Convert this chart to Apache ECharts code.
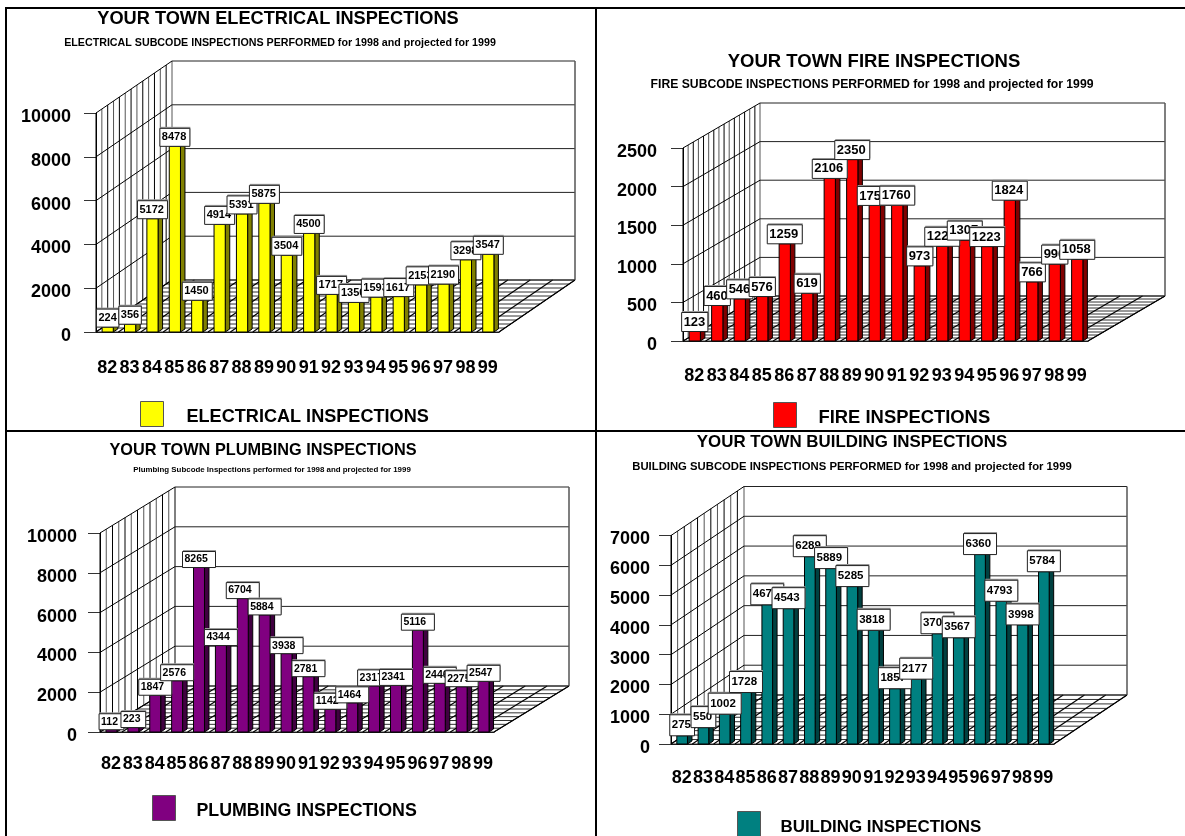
<!DOCTYPE html>
<html>
<head>
<meta charset="utf-8">
<style>
  html, body { margin: 0; padding: 0; background: #fff; }
  #chart { width: 1185px; height: 836px; }
</style>
<script src="https://cdn.jsdelivr.net/npm/echarts@6/dist/echarts.min.js"></script>
</head>
<body>
<div id="chart"></div>
<script>
// inspection counts
const categories = ['82', '83', '84', '85', '86', '87', '88', '89', '90', '91', '92', '93', '94', '95', '96', '97', '98', '99'];
const electricalValues = [224, 356, 5172, 8478, 1450, 4914, 5391, 5875, 3504, 4500, 1717, 1350, 1593, 1617, 2153, 2190, 3298, 3547];
const fireValues = [123, 460, 546, 576, 1259, 619, 2106, 2350, 1756, 1760, 973, 1227, 1307, 1223, 1824, 766, 996, 1058];
const plumbingValues = [112, 223, 1847, 2576, 8265, 4344, 6704, 5884, 3938, 2781, 1142, 1464, 2317, 2341, 5116, 2446, 2275, 2547];
const buildingValues = [275, 550, 1002, 1728, 4674, 4543, 6289, 5889, 5285, 3818, 1857, 2177, 3702, 3567, 6360, 4793, 3998, 5784];

const electricalTicks = [0, 2000, 4000, 6000, 8000, 10000];
const fireTicks = [0, 500, 1000, 1500, 2000, 2500];
const plumbingTicks = [0, 2000, 4000, 6000, 8000, 10000];
const buildingTicks = [0, 1000, 2000, 3000, 4000, 5000, 6000, 7000];

const FONT = '"Liberation Sans", Arial, sans-serif';

const panels = [
  {
    name: 'ELECTRICAL INSPECTIONS', values: electricalValues, ticks: electricalTicks,
    title: 'YOUR TOWN ELECTRICAL INSPECTIONS', titleX: 278, titleY: 19, titleSize: 18.2,
    sub: 'ELECTRICAL SUBCODE INSPECTIONS PERFORMED for 1998 and projected for 1999', subX: 280, subY: 43, subSize: 10.7,
    left: 96, right: 499, top: 113, bottom: 332, dx: 76, dy: -52, steps: 13, xMargin: 27, yMargin: 25,
    color: '#ffff00', side: '#808000', cap: '#c0c000',
    boxH: 18, digitW: 7.5, labelSize: 11,
    legendX: 140, legendY: 401, legendGap: 18, legendSize: 18.1
  },
  {
    name: 'FIRE INSPECTIONS', values: fireValues, ticks: fireTicks,
    title: 'YOUR TOWN FIRE INSPECTIONS', titleX: 874, titleY: 62, titleSize: 18.5,
    sub: 'FIRE SUBCODE INSPECTIONS PERFORMED for 1998 and projected for 1999', subX: 872, subY: 85, subSize: 12.2,
    left: 683, right: 1088, top: 148, bottom: 341, dx: 77, dy: -45, steps: 15, xMargin: 26, yMargin: 26,
    color: '#ff0000', side: '#800000', cap: '#c00000',
    boxH: 19, digitW: 8.75, labelSize: 13,
    legendX: 773, legendY: 402, legendGap: 17, legendSize: 18.4
  },
  {
    name: 'PLUMBING INSPECTIONS', values: plumbingValues, ticks: plumbingTicks,
    title: 'YOUR TOWN PLUMBING INSPECTIONS', titleX: 263, titleY: 451, titleSize: 16.3,
    sub: 'Plumbing Subcode Inspections performed for 1998 and projected for 1999', subX: 272, subY: 470, subSize: 7.9,
    left: 100, right: 494, top: 533, bottom: 732, dx: 75, dy: -46, steps: 12, xMargin: 23, yMargin: 23,
    color: '#800080', side: '#400040', cap: '#600060',
    boxH: 16, digitW: 8.25, labelSize: 10.5,
    legendX: 152, legendY: 795, legendGap: 16, legendSize: 17.8
  },
  {
    name: 'BUILDING INSPECTIONS', values: buildingValues, ticks: buildingTicks,
    title: 'YOUR TOWN BUILDING INSPECTIONS', titleX: 852, titleY: 442, titleSize: 16.9,
    sub: 'BUILDING SUBCODE INSPECTIONS PERFORMED for 1998 and projected for 1999', subX: 852, subY: 467, subSize: 11.3,
    left: 671, right: 1054, top: 535.5, bottom: 744, dx: 73, dy: -49, steps: 11, xMargin: 25, yMargin: 21,
    color: '#008080', side: '#004040', cap: '#006060',
    boxH: 21, digitW: 8.25, labelSize: 11.5,
    legendX: 737, legendY: 811, legendGap: 15, legendSize: 16.9
  }
];

function seg(x1, y1, x2, y2, stroke, lineWidth) {
  return { type: 'line', shape: { x1, y1, x2, y2 }, style: { stroke, lineWidth: lineWidth || 1 }, silent: true };
}

// side wall, back wall and striped floor
function renderBox(panel, params, api) {
  const box = params.coordSys;
  const children = [];
  const x0 = box.x, x1 = box.x + box.width;
  const y0 = box.y + box.height, yTop = box.y;
  const { dx, dy, steps } = panel;

  // floor stripes
  for (let s = 0; s <= steps; s++) {
    const t = s / steps;
    children.push(seg(x0 + dx * t, y0 + dy * t, x1 + dx * t, y0 + dy * t, '#333', 1));
  }
  // floor lines running back from every category edge
  const band = box.width / categories.length;
  for (let i = 0; i <= categories.length; i++) {
    const x = x0 + band * i;
    children.push(seg(x, y0, x + dx, y0 + dy, '#000', 1.2));
  }
  // upright lines on the side wall
  for (let s = 0; s <= steps; s++) {
    const t = s / steps;
    children.push(seg(x0 + dx * t, y0 + dy * t, x0 + dx * t, yTop + dy * t, s % 2 ? '#555' : '#000', 1));
  }
  // value lines across side and back wall
  panel.ticks.forEach((tick) => {
    const y = api.coord([0, tick])[1];
    children.push(seg(x0, y, x0 + dx, y + dy, '#000', 1));
    children.push(seg(x0 + dx, y + dy, x1 + dx, y + dy, '#222', 1));
  });
  // back wall right edge and the floor's right edge
  children.push(seg(x1 + dx, yTop + dy, x1 + dx, y0 + dy, '#555', 1.5));
  children.push(seg(x1, y0, x1 + dx, y0 + dy, '#000', 1));
  return { type: 'group', children };
}

function renderBar(panel, params, api) {
  const idx = api.value(0);
  const base = api.coord([idx, 0]);
  const top = api.coord([idx, api.value(1)]);
  const w = api.size([1, 0])[0] * 0.5;
  const l = base[0] - w / 2 + 0.5;
  const r = l + w;
  const dep = 4.5, rise = 3;
  const line = { stroke: '#000', lineWidth: 1 };
  return {
    type: 'group',
    children: [
      { type: 'polygon', shape: { points: [[r, base[1]], [r + dep, base[1] - rise], [r + dep, top[1] - rise], [r, top[1]]] }, style: { fill: panel.side, ...line } },
      { type: 'polygon', shape: { points: [[l, top[1]], [l + dep, top[1] - rise], [r + dep, top[1] - rise], [r, top[1]]] }, style: { fill: panel.cap, ...line } },
      { type: 'rect', shape: { x: l, y: top[1], width: w, height: base[1] - top[1] }, style: { fill: panel.color, ...line } }
    ]
  };
}

function renderLabel(panel, params, api) {
  const idx = api.value(0);
  const val = api.value(1);
  const base = api.coord([idx, 0]);
  const top = api.coord([idx, val]);
  const text = String(val);
  const w = text.length * panel.digitW;
  const x = base[0] - w / 2 + 0.5;
  const y = top[1] - panel.boxH;
  return {
    type: 'group',
    children: [
      { type: 'rect', shape: { x: x + 0.5, y: y - 1.5, width: w, height: panel.boxH }, style: { fill: '#999' } },
      { type: 'rect', shape: { x, y, width: w, height: panel.boxH }, style: { fill: '#fff', stroke: '#222', lineWidth: 1 } },
      { type: 'text', x: x + 2, y: y + panel.boxH / 2, style: { text, fill: '#000', font: `bold ${panel.labelSize}px ${FONT}`, textAlign: 'left', textVerticalAlign: 'middle' } }
    ]
  };
}

const option = {
  backgroundColor: '#fff',
  animation: false,
  title: [],
  legend: [],
  grid: [],
  xAxis: [],
  yAxis: [],
  series: [],
  graphic: [
    seg(6, 8, 1185, 8, '#000', 2),
    seg(6, 431, 1185, 431, '#000', 2),
    seg(6, 7, 6, 836, '#000', 2),
    seg(596, 7, 596, 836, '#000', 2)
  ]
};

panels.forEach((panel, i) => {
  option.title.push({
    text: panel.title, left: panel.titleX, top: panel.titleY - panel.titleSize * 0.5, textAlign: 'center', padding: 0,
    textStyle: { fontFamily: FONT, fontWeight: 'bold', fontSize: panel.titleSize, color: '#000' }
  });
  option.title.push({
    text: panel.sub, left: panel.subX, top: panel.subY - panel.subSize * 0.5, textAlign: 'center', padding: 0,
    textStyle: { fontFamily: FONT, fontWeight: 'bold', fontSize: panel.subSize, color: '#000' }
  });
  option.legend.push({
    data: [panel.name], left: panel.legendX, top: panel.legendY, padding: 0, icon: 'rect', itemWidth: 23, itemHeight: 25,
    selectedMode: false,
    itemStyle: { borderColor: '#555', borderWidth: 1 },
    formatter: (name) => `{t|${name}}`,
    textStyle: {
      rich: { t: { fontFamily: FONT, fontWeight: 'bold', fontSize: panel.legendSize, color: '#000', padding: [6, 0, 0, panel.legendGap] } }
    }
  });
  option.grid.push({ left: panel.left, top: panel.top, width: panel.right - panel.left, height: panel.bottom - panel.top, containLabel: false });
  option.xAxis.push({
    type: 'category', gridIndex: i, data: categories, boundaryGap: true,
    axisLine: { lineStyle: { color: '#000', width: 1 } },
    axisTick: { alignWithLabel: true, length: 13, lineStyle: { color: '#333' } },
    axisLabel: { interval: 0, margin: panel.xMargin, fontFamily: FONT, fontWeight: 'bold', fontSize: 18, color: '#000' }
  });
  option.yAxis.push({
    type: 'value', gridIndex: i, min: panel.ticks[0], max: panel.ticks[panel.ticks.length - 1], interval: panel.ticks[1] - panel.ticks[0],
    splitLine: { show: false },
    axisLine: { show: true, lineStyle: { color: '#000', width: 1 } },
    axisTick: { show: true, length: 12, lineStyle: { color: '#333' } },
    axisLabel: {
      margin: panel.yMargin, formatter: (v) => `{t|${v}}`,
      rich: { t: { padding: [8, 0, 0, 0], fontFamily: FONT, fontWeight: 'bold', fontSize: 18, color: '#000' } }
    }
  });
  const rows = panel.values.map((v, k) => [k, v]);
  option.series.push({
    type: 'custom', xAxisIndex: i, yAxisIndex: i, z: 1, silent: true, data: [[0, 0]],
    renderItem: (params, api) => renderBox(panel, params, api)
  });
  option.series.push({
    name: panel.name, type: 'custom', xAxisIndex: i, yAxisIndex: i, z: 2, silent: true, data: rows,
    itemStyle: { color: panel.color },
    renderItem: (params, api) => renderBar(panel, params, api)
  });
  option.series.push({
    type: 'custom', xAxisIndex: i, yAxisIndex: i, z: 3, silent: true, data: rows,
    renderItem: (params, api) => renderLabel(panel, params, api)
  });
});

const chart = echarts.init(document.getElementById('chart'));
chart.setOption(option);
</script>
</body>
</html>
